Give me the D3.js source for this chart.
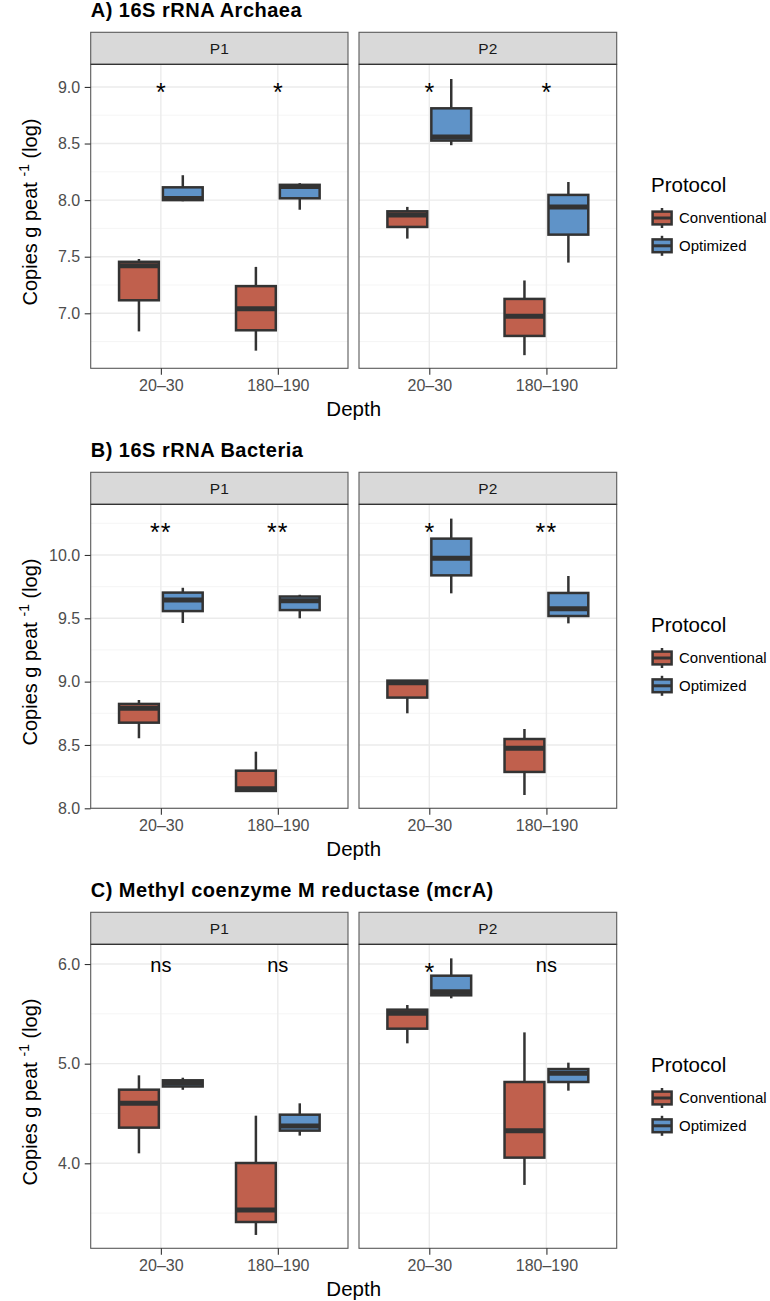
<!DOCTYPE html>
<html>
<head>
<meta charset="utf-8">
<script src="https://cdn.jsdelivr.net/npm/d3@7"></script>
<style>
  body { margin: 0; background: #fff; }
  svg { display: block; font-family: 'Liberation Sans', Arial, sans-serif; }
</style>
</head>
<body>
<div id="chart"></div>
<script>
const sites = ['P1', 'P2']
const depths = ['20–30', '180–190']
const protocols = ['Conventional', 'Optimized']
const protocolColors = ['#C0604D', '#5F93C8']

// site, depth, protocol, lower whisker, q1, median, q3, upper whisker
const archaeaBoxes = [
  ['P1', '20–30', 'Conventional', 6.84, 7.115, 7.42, 7.455, 7.48],
  ['P1', '20–30', 'Optimized', 7.99, 8.0, 8.015, 8.113, 8.22],
  ['P1', '180–190', 'Conventional', 6.67, 6.85, 7.04, 7.24, 7.41],
  ['P1', '180–190', 'Optimized', 7.915, 8.016, 8.12, 8.135, 8.15],
  ['P2', '20–30', 'Conventional', 7.66, 7.763, 7.869, 7.901, 7.94],
  ['P2', '20–30', 'Optimized', 8.485, 8.526, 8.558, 8.811, 9.07],
  ['P2', '180–190', 'Conventional', 6.63, 6.8, 6.973, 7.127, 7.29],
  ['P2', '180–190', 'Optimized', 7.448, 7.695, 7.94, 8.046, 8.16],
]
const archaeaSig = [['P1', '20–30', '*'], ['P1', '180–190', '*'], ['P2', '20–30', '*'], ['P2', '180–190', '*']]
const archaeaTicks = [7.0, 7.5, 8.0, 8.5, 9.0]
const archaeaMinor = [6.75, 7.25, 7.75, 8.25, 8.75]

const bacteriaBoxes = [
  ['P1', '20–30', 'Conventional', 8.553, 8.676, 8.79, 8.824, 8.855],
  ['P1', '20–30', 'Optimized', 9.463, 9.557, 9.644, 9.703, 9.741],
  ['P1', '180–190', 'Conventional', 8.13, 8.137, 8.155, 8.297, 8.447],
  ['P1', '180–190', 'Optimized', 9.5, 9.565, 9.638, 9.672, 9.686],
  ['P2', '20–30', 'Conventional', 8.75, 8.874, 8.992, 9.008, 9.01],
  ['P2', '20–30', 'Optimized', 9.697, 9.839, 9.974, 10.129, 10.287],
  ['P2', '180–190', 'Conventional', 8.105, 8.287, 8.474, 8.547, 8.626],
  ['P2', '180–190', 'Optimized', 9.46, 9.518, 9.576, 9.7, 9.834],
]
const bacteriaSig = [['P1', '20–30', '**'], ['P1', '180–190', '**'], ['P2', '20–30', '*'], ['P2', '180–190', '**']]
const bacteriaTicks = [8.0, 8.5, 9.0, 9.5, 10.0]
const bacteriaMinor = [8.25, 8.75, 9.25, 9.75, 10.25]

const mcraBoxes = [
  ['P1', '20–30', 'Conventional', 4.1, 4.358, 4.602, 4.739, 4.883],
  ['P1', '20–30', 'Optimized', 4.738, 4.771, 4.805, 4.833, 4.859],
  ['P1', '180–190', 'Conventional', 3.281, 3.411, 3.532, 4.003, 4.478],
  ['P1', '180–190', 'Optimized', 4.278, 4.328, 4.375, 4.488, 4.602],
  ['P2', '20–30', 'Conventional', 5.204, 5.351, 5.505, 5.542, 5.589],
  ['P2', '20–30', 'Optimized', 5.656, 5.686, 5.722, 5.883, 6.057],
  ['P2', '180–190', 'Conventional', 3.783, 4.057, 4.328, 4.816, 5.314],
  ['P2', '180–190', 'Optimized', 4.729, 4.816, 4.903, 4.946, 5.01],
]
const mcraSig = [['P1', '20–30', 'ns'], ['P1', '180–190', 'ns'], ['P2', '20–30', '*'], ['P2', '180–190', 'ns']]
const mcraTicks = [4.0, 5.0, 6.0]
const mcraMinor = [3.5, 4.5, 5.5]

const figures = [
  { title: 'A) 16S rRNA Archaea', boxes: archaeaBoxes, sig: archaeaSig, sigY: 9.0,
    ticks: archaeaTicks, minor: archaeaMinor, domain: [6.514, 9.2], top: 0 },
  { title: 'B) 16S rRNA Bacteria', boxes: bacteriaBoxes, sig: bacteriaSig, sigY: 10.223,
    ticks: bacteriaTicks, minor: bacteriaMinor, domain: [8.0, 10.4], top: 440 },
  { title: 'C) Methyl coenzyme M reductase (mcrA)', boxes: mcraBoxes, sig: mcraSig, sigY: 5.973,
    ticks: mcraTicks, minor: mcraMinor, domain: [3.147, 6.198], top: 880 },
]

const W = 770
const H = 1301
const panelX = [[90.7, 348], [359, 616.7]]
const STRIP_TOP = 32.3
const STRIP_H = 32
const BODY_H = 304
const INK = '#333333'
const BORDER = '#5a5a5a'

const svg = d3.select('#chart').append('svg').attr('width', W).attr('height', H)

figures.forEach(drawFigure)

function drawFigure(fig) {
  const g = svg.append('g').attr('transform', `translate(0,${fig.top})`)
  const bodyTop = STRIP_TOP + STRIP_H
  const bodyBottom = bodyTop + BODY_H
  const y = d3.scaleLinear().domain(fig.domain).range([bodyBottom, bodyTop])

  g.append('text')
    .attr('x', 90.7).attr('y', 16.7)
    .attr('font-size', 20).attr('font-weight', 'bold').attr('letter-spacing', 0.5).attr('fill', '#000')
    .text(fig.title)

  sites.forEach((site, i) => {
    const [x0, x1] = panelX[i]
    const x = d3.scalePoint().domain(depths).range([x0, x1]).padding(0.6)
    const p = g.append('g')

    p.append('rect')
      .attr('x', x0).attr('y', bodyTop).attr('width', x1 - x0).attr('height', BODY_H)
      .attr('fill', '#fff')

    p.selectAll('line.minor').data(fig.minor).join('line')
      .attr('class', 'minor')
      .attr('x1', x0).attr('x2', x1)
      .attr('y1', (d) => y(d)).attr('y2', (d) => y(d))
      .attr('stroke', '#F2F2F2').attr('stroke-width', 0.8)

    p.selectAll('line.major').data(fig.ticks).join('line')
      .attr('class', 'major')
      .attr('x1', x0).attr('x2', x1)
      .attr('y1', (d) => y(d)).attr('y2', (d) => y(d))
      .attr('stroke', '#EBEBEB').attr('stroke-width', 1.4)

    p.selectAll('line.vmajor').data(depths).join('line')
      .attr('class', 'vmajor')
      .attr('x1', (d) => x(d)).attr('x2', (d) => x(d))
      .attr('y1', bodyTop).attr('y2', bodyBottom)
      .attr('stroke', '#EBEBEB').attr('stroke-width', 1.4)

    const rows = fig.boxes.filter((r) => r[0] === site)
    const dodge = x.step() * 0.1875
    const bw = x.step() * 0.34
    const cx = (r) => x(r[1]) + (protocols.indexOf(r[2]) === 0 ? -dodge : dodge)

    const box = p.selectAll('g.box').data(rows).join('g').attr('class', 'box')
    box.append('line')
      .attr('x1', cx).attr('x2', cx)
      .attr('y1', (r) => y(r[7])).attr('y2', (r) => y(r[3]))
      .attr('stroke', INK).attr('stroke-width', 2.5)
    box.append('rect')
      .attr('x', (r) => cx(r) - bw / 2).attr('width', bw)
      .attr('y', (r) => y(r[6])).attr('height', (r) => y(r[4]) - y(r[6]))
      .attr('fill', (r) => protocolColors[protocols.indexOf(r[2])])
      .attr('stroke', INK).attr('stroke-width', 2.5)
    box.append('line')
      .attr('x1', (r) => cx(r) - bw / 2).attr('x2', (r) => cx(r) + bw / 2)
      .attr('y1', (r) => y(r[5])).attr('y2', (r) => y(r[5]))
      .attr('stroke', INK).attr('stroke-width', 5)

    const sig = fig.sig.filter((s) => s[0] === site)
    p.selectAll('text.sig').data(sig).join('text')
      .attr('class', 'sig')
      .attr('x', (s) => x(s[1]))
      .attr('y', (s) => y(fig.sigY) + (s[2] === 'ns' ? 5.2 : 14.5))
      .attr('text-anchor', 'middle')
      .attr('font-size', (s) => (s[2] === 'ns' ? 20 : 25))
      .attr('letter-spacing', (s) => (s[2] === '**' ? 1.2 : 0))
      .attr('fill', '#000')
      .text((s) => s[2])

    p.append('rect')
      .attr('x', x0).attr('y', bodyTop).attr('width', x1 - x0).attr('height', BODY_H)
      .attr('fill', 'none').attr('stroke', BORDER).attr('stroke-width', 1.1)

    p.append('rect')
      .attr('x', x0).attr('y', STRIP_TOP).attr('width', x1 - x0).attr('height', STRIP_H)
      .attr('fill', '#D9D9D9').attr('stroke', BORDER).attr('stroke-width', 1.1)
    p.append('line')
      .attr('x1', x0).attr('x2', x1).attr('y1', bodyTop).attr('y2', bodyTop)
      .attr('stroke', INK).attr('stroke-width', 1.3)
    p.append('text')
      .attr('x', (x0 + x1) / 2).attr('y', STRIP_TOP + STRIP_H / 2 + 5.5)
      .attr('text-anchor', 'middle').attr('font-size', 15.5).attr('fill', '#1A1A1A')
      .text(site)

    const xa = p.append('g')
      .attr('transform', `translate(0,${bodyBottom})`)
      .call(d3.axisBottom(x).tickSize(6.5).tickPadding(5))
    styleAxis(xa)

    if (i === 0) {
      const ya = p.append('g')
        .attr('transform', `translate(${x0},0)`)
        .call(d3.axisLeft(y).tickValues(fig.ticks).tickFormat(d3.format('.1f')).tickSize(6).tickPadding(4.5))
      styleAxis(ya)
    }
  })

  g.append('text')
    .attr('x', (panelX[0][0] + panelX[1][1]) / 2).attr('y', 416)
    .attr('text-anchor', 'middle').attr('font-size', 20.5).attr('fill', '#000')
    .text('Depth')

  const yt = g.append('text')
    .attr('transform', `translate(36.5,212) rotate(-90)`)
    .attr('text-anchor', 'middle').attr('font-size', 20).attr('fill', '#000')
  yt.append('tspan').text('Copies g peat ')
  yt.append('tspan').attr('font-size', 14).attr('dy', -8).text('-1')
  yt.append('tspan').attr('dy', 8).text(' (log)')

  const lg = g.append('g').attr('transform', 'translate(651,0)')
  lg.append('text')
    .attr('x', 0).attr('y', 192)
    .attr('font-size', 20.5).attr('fill', '#000')
    .text('Protocol')
  const key = lg.selectAll('g.key').data(protocols).join('g')
    .attr('class', 'key')
    .attr('transform', (d, k) => `translate(0,${218 + k * 27.8})`)
  key.append('line')
    .attr('x1', 11).attr('x2', 11).attr('y1', -10).attr('y2', 10)
    .attr('stroke', INK).attr('stroke-width', 2.5)
  key.append('rect')
    .attr('x', 1.6).attr('y', -6.4).attr('width', 19).attr('height', 12.8)
    .attr('fill', (d, k) => protocolColors[k])
    .attr('stroke', INK).attr('stroke-width', 2.5)
  key.append('line')
    .attr('x1', 1.6).attr('x2', 20.6).attr('y1', 0).attr('y2', 0)
    .attr('stroke', INK).attr('stroke-width', 3)
  key.append('text')
    .attr('x', 28).attr('y', 5.4)
    .attr('font-size', 15).attr('fill', '#000')
    .text((d) => d)
}

function styleAxis(sel) {
  sel.select('.domain').remove()
  sel.selectAll('.tick line').attr('stroke', INK).attr('stroke-width', 1.1)
  sel.selectAll('.tick text')
    .attr('fill', '#4D4D4D')
    .attr('font-size', 16)
    .attr('font-family', "'Liberation Sans', Arial, sans-serif")
}
</script>
</body>
</html>
